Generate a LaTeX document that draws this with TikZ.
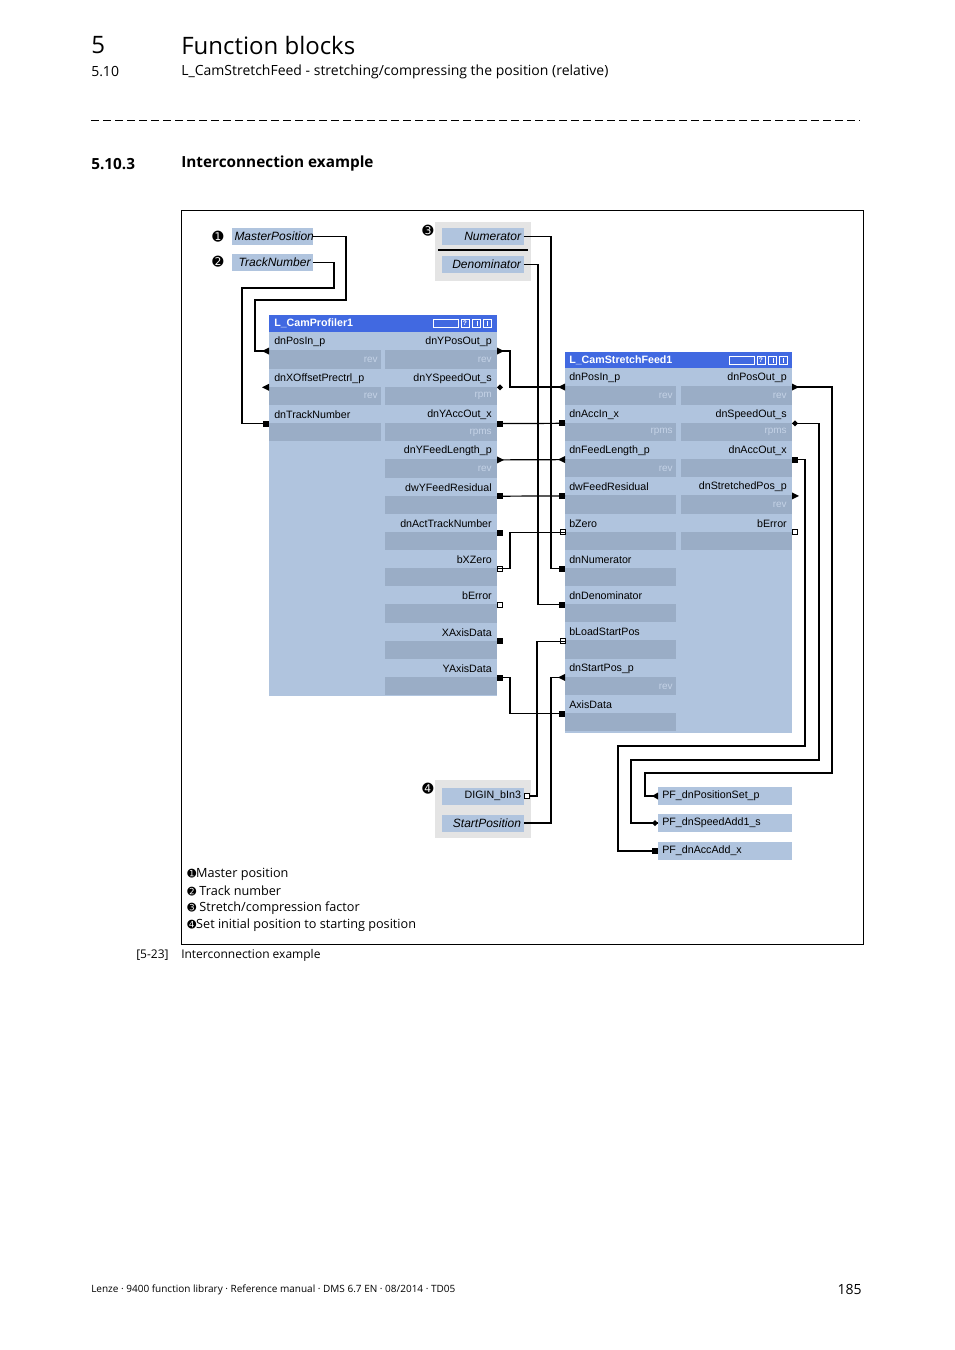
\documentclass[tikz,border=0pt]{standalone}
\usepackage{fontspec}
\setmainfont{Open Sans}
\newfontfamily\arialf{Liberation Sans}
\newfontfamily\dejav{DejaVu Sans}
\definecolor{lb}{HTML}{B0C4DE}
\definecolor{db}{HTML}{9AADC6}
\definecolor{tb}{HTML}{4169E1}
\definecolor{gg}{HTML}{E4E4E4}
\definecolor{ut}{HTML}{C4D2E6}
\tikzset{
 wire/.style={line width=0.9pt},
 lab/.style={font=\arialf\fontsize{8}{9}\selectfont, inner sep=0pt},
 unit/.style={font=\arialf\fontsize{7.5}{9}\selectfont, text=ut, inner sep=0pt, anchor=east},
 sig/.style={fill=lb, font=\arialf\itshape\fontsize{9}{10}\selectfont, minimum width=61pt, minimum height=12.75pt, inner sep=2pt, text width=57pt, align=right},
 pf/.style={fill=lb, font=\arialf\fontsize{8}{9}\selectfont, minimum width=100.5pt, minimum height=13.5pt, inner sep=3pt, text width=94pt, align=left},
 hdr/.style={inner sep=0pt, anchor=west},
}
\newcommand\ptri[3]{\fill (#1,{#2-3.5}) -- ({#1+#3},#2) -- (#1,{#2+3.5}) -- cycle;}
\newcommand\psq[3]{\fill (#1,{#2-3}) rectangle ({#1+#3},{#2+3});}
\newcommand\phol[3]{\filldraw[fill=white,line width=0.6pt] (#1,{#2-2.5}) rectangle ({#1+#3},{#2+2.5});}
\newcommand\pdia[3]{\fill ({#1+#3/2-3},#2) -- ({#1+#3/2},{#2-3}) -- ({#1+#3/2+3},#2) -- ({#1+#3/2},{#2+3}) -- cycle;}
\newcommand\ticons[2]{%
 \draw[white,line width=0.7pt] ({#1},{#2-4}) rectangle ({#1+25},{#2+4});
 \draw[white,line width=0.7pt] ({#1+28},{#2-4}) rectangle ({#1+36},{#2+4});
 \draw[white,line width=0.7pt] ({#1+39},{#2-4}) rectangle ({#1+47},{#2+4});
 \draw[white,line width=0.7pt] ({#1+50},{#2-4}) rectangle ({#1+58},{#2+4});
 \node[font=\arialf\bfseries\fontsize{5}{5}\selectfont,text=white,inner sep=0pt] at ({#1+32},#2) {?};
 \fill[white] ({#1+43.5},{#2-2.5}) rectangle ({#1+44.5},{#2+2.5});
 \fill[white] ({#1+53.5},{#2-2.5}) rectangle ({#1+54.5},{#2+2.5});}
\begin{document}
\begin{tikzpicture}[x=0.75pt,y=-0.75pt]
\useasboundingbox (0,0) rectangle (954,1350);
% header
\node[hdr,font=\fontsize{18}{20}\selectfont] (h1) at (91,45) {5};
\node[hdr,font=\fontsize{18}{20}\selectfont] (h2) at (181,45) {Function blocks};
\node[hdr,font=\fontsize{10.5}{12}\selectfont] (h3) at (91,72) {5.10};
\node[hdr,font=\fontsize{10.5}{12}\selectfont] (h4) at (181,72) {L\_CamStretchFeed - stretching/compressing the position (relative)};
\draw[dash pattern=on 6pt off 3pt,line width=0.6pt] (91,120) -- (860,120);
\node[hdr,font=\bfseries\fontsize{11.5}{13}\selectfont] (s1) at (91,164) {5.10.3};
\node[hdr,font=\bfseries\fontsize{11.5}{13}\selectfont] (s2) at (181,164) {Interconnection example};
\draw[line width=0.7pt] (181,210) rectangle (863,944);
\node[hdr,font=\fontsize{9}{10}\selectfont] (c1) at (136,955) {[5-23]};
\node[hdr,font=\fontsize{9}{10}\selectfont] (c2) at (181,955) {Interconnection example};
\node[hdr,font=\fontsize{7.5}{9}\selectfont] (f1) at (91,1290) {Lenze · 9400 function library · Reference manual · DMS 6.7 EN · 08/2014 · TD05};
\node[inner sep=0pt,anchor=east,font=\fontsize{10.5}{12}\selectfont] (f2) at (862,1289) {185};

% groups
\fill[gg] (435,222) rectangle (531,281);
\fill[gg] (435,780) rectangle (531,838);
\draw[line width=1.5pt] (438,250) -- (528,250);
\node[sig] (mp) at (272.5,236.5) {MasterPosition};
\node[sig] (tn) at (272.5,262.5) {TrackNumber};
\node[sig] (nu) at (483,236.5) {Numerator};
\node[sig] (de) at (483,264.5) {Denominator};
\node[sig,font=\arialf\fontsize{8}{9}\selectfont] (di) at (483,796) {DIGIN\_bIn3};
\node[sig] (sp) at (483,823) {StartPosition};
\node[font=\dejav\fontsize{10}{10}\selectfont,inner sep=0pt] (b1) at (218,237) {➊};
\node[font=\dejav\fontsize{10}{10}\selectfont,inner sep=0pt] (b2) at (218,262) {➋};
\node[font=\dejav\fontsize{10}{10}\selectfont,inner sep=0pt] (b3) at (428,231) {➌};
\node[font=\dejav\fontsize{10}{10}\selectfont,inner sep=0pt] (b4) at (428,789) {➍};

% CamProfiler1
\fill[lb] (269,332) rectangle (497,696);
\fill[tb] (269,315) rectangle (497,332);
\node[lab,anchor=west,text=white,font=\arialf\bfseries\fontsize{8}{9}\selectfont] (cpt) at (274,323.5) {L\_CamProfiler1};
\ticons{433}{323.5}
\foreach \i/\l/\u in {0/dnYPosOut\_p/rev,1/dnYSpeedOut\_s/rpm,2/dnYAccOut\_x/rpm\/s,3/dnYFeedLength\_p/rev,4/dwYFeedResidual/,5/dnActTrackNumber/,6/bXZero/,7/bError/,8/XAxisData/,9/YAxisData/}{
 \fill[db] (385,{350.3+36.3*\i}) rectangle (497,{368.6+36.3*\i});
 \node[lab,anchor=east] at (492,{342+36.3*\i}) {\l};
 \node[unit] at (492,{360+36.3*\i}) {\u};
 \coordinate (cpR\i) at (497,{351+36.3*\i});
}
\foreach \i/\l/\u in {0/dnPosIn\_p/rev,1/dnXOffsetPrectrl\_p/rev,2/dnTrackNumber/}{
 \fill[db] (269,{350.3+36.3*\i}) rectangle (381,{368.6+36.3*\i});
 \node[lab,anchor=west] at (274,{342+36.3*\i}) {\l};
 \node[unit] at (378,{360+36.3*\i}) {\u};
 \coordinate (cpL\i) at (269,{351+36.3*\i});
}
\ptri{269}{351}{-7} \ptri{269}{387.3}{-7} \psq{269}{423.6}{-6}
\ptri{497}{351}{7} \pdia{497}{387.3}{6} \psq{497}{423.6}{6} \ptri{497}{459.9}{7}
\psq{497}{496.2}{6} \psq{497}{532.5}{6} \phol{497}{568.8}{5} \phol{497}{605.1}{5}
\psq{497}{641.4}{6} \psq{497}{677.7}{6}

% CamStretchFeed1
\fill[lb] (565,368) rectangle (792,733);
\fill[tb] (565,352) rectangle (792,368);
\node[lab,anchor=west,text=white,font=\arialf\bfseries\fontsize{8}{9}\selectfont] (cst) at (569,360) {L\_CamStretchFeed1};
\ticons{729}{360}
\foreach \i/\l/\u in {0/dnPosIn\_p/rev,1/dnAccIn\_x/rpm\/s,2/dnFeedLength\_p/rev,3/dwFeedResidual/,4/bZero/,5/dnNumerator/,6/dnDenominator/,7/bLoadStartPos/,8/dnStartPos\_p/rev,9/AxisData/}{
 \fill[db] (565,{386.3+36.3*\i}) rectangle (676,{404.6+36.3*\i});
 \node[lab,anchor=west] at (569,{378+36.3*\i}) {\l};
 \node[unit] at (673,{396+36.3*\i}) {\u};
 \coordinate (csL\i) at (565,{387+36.3*\i});
}
\foreach \i/\l/\u in {0/dnPosOut\_p/rev,1/dnSpeedOut\_s/rpm\/s,2/dnAccOut\_x/,3/dnStretchedPos\_p/rev,4/bError/}{
 \fill[db] (681,{386.3+36.3*\i}) rectangle (792,{404.6+36.3*\i});
 \node[lab,anchor=east] at (787,{378+36.3*\i}) {\l};
 \node[unit] at (787,{396+36.3*\i}) {\u};
 \coordinate (csR\i) at (792,{387+36.3*\i});
}
\ptri{565}{387}{-7} \psq{565}{423.3}{-6} \ptri{565}{459.6}{-7} \psq{565}{495.9}{-6}
\phol{565}{532.2}{-5} \psq{565}{568.5}{-6} \psq{565}{604.8}{-6} \phol{565}{641.1}{-5}
\ptri{565}{677.4}{-7} \psq{565}{713.7}{-6}
\ptri{792}{387}{7} \pdia{792}{423.3}{6} \psq{792}{459.6}{6} \ptri{792}{495.9}{7} \phol{792}{532.2}{5}
\phol{524}{796}{5}

% PF boxes
\node[pf] (p1) at (725,796) {PF\_dnPositionSet\_p};
\node[pf] (p2) at (725,823) {PF\_dnSpeedAdd1\_s};
\node[pf] (p3) at (725,851) {PF\_dnAccAdd\_x};
\ptri{658}{796}{-6} \pdia{658}{823}{-6} \psq{658}{851}{-6}

% wires
\draw[wire] (mp.east) -- (346,236.5) -- (346,300) -- (255,300) |- (cpL0);
\draw[wire] (tn.east) -- (334,262.5) -- (334,288) -- (242,288) |- (cpL2);
\draw[wire] (cpR0) -- (510,351) |- (csL0);
\draw[wire] (cpR2) -- (csL1);
\draw[wire] (cpR3) -- (csL2);
\draw[wire] (cpR4) -- (csL3);
\draw[wire] (cpR6) -- (510,{351+36.3*6}) |- (csL4);
\draw[wire] (cpR9) -- (510,{351+36.3*9}) |- (csL9);
\draw[wire] (nu.east) -- (551,236.5) |- (csL5);
\draw[wire] (de.east) -- (538,264.5) |- (csL6);
\draw[wire] (529,796) -- (537,796) |- (csL7);
\draw[wire] (sp.east) -- (551,823) |- (csL8);
\draw[wire] (csR0) -- (832,387) -- (832,773) -- (645,773) |- (p1.west);
\draw[wire] (csR1) -- (819,{387+36.3}) -- (819,760) -- (631,760) |- (p2.west);
\draw[wire] (csR2) -- (805,{387+72.6}) -- (805,746) -- (618,746) |- (p3.west);

% legend
\node[hdr,font=\fontsize{9.5}{11}\selectfont] (l1) at (187,874) {{\dejav\fontsize{8}{8}\selectfont ➊}Master position};
\node[hdr,font=\fontsize{9.5}{11}\selectfont] (l2) at (187,891) {{\dejav\fontsize{8}{8}\selectfont ➋} Track number};
\node[hdr,font=\fontsize{9.5}{11}\selectfont] (l3) at (187,908) {{\dejav\fontsize{8}{8}\selectfont ➌} Stretch/compression factor};
\node[hdr,font=\fontsize{9.5}{11}\selectfont] (l4) at (187,925) {{\dejav\fontsize{8}{8}\selectfont ➍}Set initial position to starting position};
\end{tikzpicture}
\end{document}
